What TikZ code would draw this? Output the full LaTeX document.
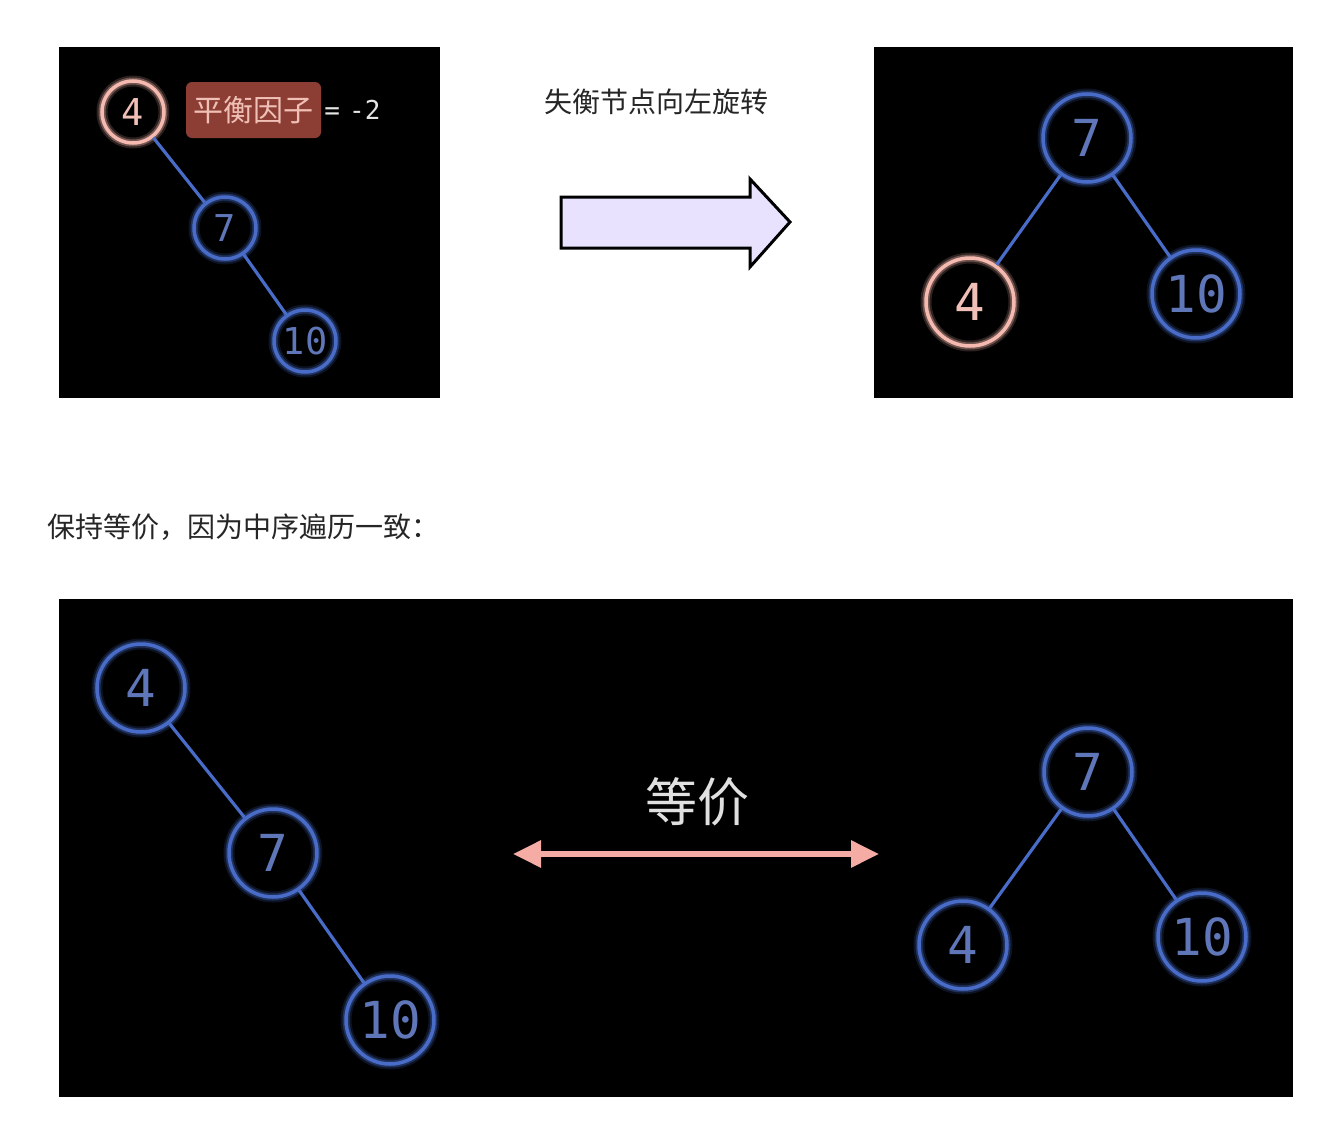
\documentclass[tikz,border=0pt]{standalone}
\usepackage{fontspec}
\setmonofont{DejaVu Sans Mono}
\newfontfamily\cjk{Noto Sans CJK SC}
\usetikzlibrary{arrows.meta}
\definecolor{nblue}{RGB}{72,108,200}
\definecolor{tblue}{RGB}{95,118,185}
\definecolor{npink}{RGB}{245,185,175}
\definecolor{tpink}{RGB}{240,192,182}
\definecolor{bfbox}{RGB}{140,62,52}
\definecolor{arrfill}{RGB}{232,226,255}
\definecolor{darrow}{RGB}{245,172,165}
\tikzset{
  tnode/.style={circle, draw=#1, line width=3.5pt, inner sep=0pt,
    preaction={draw=#1, line width=11pt, draw opacity=0.18},
    preaction={draw=#1, line width=7pt, draw opacity=0.35}},
  small/.style={minimum size=62pt, font=\ttfamily\fontsize{37}{37}\selectfont},
  big/.style={minimum size=88pt, font=\ttfamily\fontsize{51}{51}\selectfont},
  bluen/.style={tnode=nblue, text=tblue},
  pinkn/.style={tnode=npink, text=tpink},
  edge/.style={draw=nblue, line width=3.2pt},
  panel/.style={fill=black},
}
\begin{document}
\begin{tikzpicture}[x=1pt,y=-1pt]
\useasboundingbox[fill=white] (0,0) rectangle (1342,1146);
% panels
\fill[panel] (59,47) rectangle (440,398);
\fill[panel] (874,47) rectangle (1293,398);
\fill[panel] (59,599) rectangle (1293,1097);

% top-left tree
\node[pinkn, small] (a4) at (133,112) {4};
\node[bluen, small] (a7) at (225,228) {7};
\node[bluen, small] (a10) at (305,341) {10};
\draw[edge] (a4) -- (a7);
\draw[edge] (a7) -- (a10);
\node[fill=bfbox, rounded corners=6pt, minimum width=135pt, minimum height=56pt, inner sep=0pt,
  text=tpink, font=\cjk\fontsize{30}{30}\selectfont] (bf) at (253.5,110) {平衡因子};
\node[anchor=west, inner sep=0pt, text=white!90!black, font=\ttfamily\fontsize{26}{26}\selectfont] (bfv) at ([xshift=3pt]bf.east) {=\hspace{-0.25em} -2};

% rotation arrow and caption
\node[font=\cjk\fontsize{28}{28}\selectfont, text=black!85] (cap1) at (656,102) {失衡节点向左旋转};
\draw[line width=3pt, fill=arrfill, line join=miter]
  (561,197) -- (750,197) -- (750,179) -- (790,222) -- (750,267) -- (750,248) -- (561,248) -- cycle;

% top-right tree
\node[bluen, big] (b7) at (1087,138) {7};
\node[pinkn, big] (b4) at (970,302) {4};
\node[bluen, big] (b10) at (1196,294) {10};
\draw[edge] (b7) -- (b4);
\draw[edge] (b7) -- (b10);

% middle caption
\node[anchor=west, inner sep=0pt, font=\cjk\fontsize{28}{28}\selectfont, text=black!85] (cap2) at (47,527) {保持等价，因为中序遍历一致：};

% bottom-left chain
\node[bluen, big] (c4) at (141,688) {4};
\node[bluen, big] (c7) at (273,853) {7};
\node[bluen, big] (c10) at (390,1020) {10};
\draw[edge] (c4) -- (c7);
\draw[edge] (c7) -- (c10);

% equivalence arrow
\node[font=\cjk\fontsize{52}{52}\selectfont, text=white!88!black] (eq) at (697,802) {等价};
\coordinate (dl) at (513,854);
\coordinate (dr) at (879,854);
\draw[draw=darrow, line width=6pt, {Triangle[length=28pt,width=26pt]}-{Triangle[length=28pt,width=26pt]}] (dl) -- (dr);

% bottom-right tree
\node[bluen, big] (d7) at (1088,772) {7};
\node[bluen, big] (d4) at (963,945) {4};
\node[bluen, big] (d10) at (1202,937) {10};
\draw[edge] (d7) -- (d4);
\draw[edge] (d7) -- (d10);
\end{tikzpicture}
\end{document}
